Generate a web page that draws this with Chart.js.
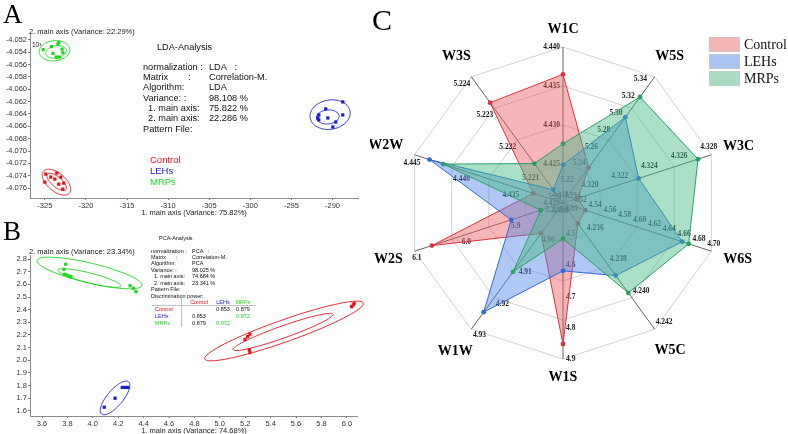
<!DOCTYPE html>
<html>
<head>
<meta charset="utf-8">
<script src="https://cdn.jsdelivr.net/npm/chart.js@4.4.1/dist/chart.umd.min.js"></script>
<style>
  html, body { margin: 0; padding: 0; background: #fff; }
  body { width: 788px; height: 434px; position: relative; overflow: hidden; }
  canvas { position: absolute; }
</style>
</head>
<body>
<canvas id="ldaChart" style="left:0;top:0;width:370px;height:222px" width="370" height="222"></canvas>
<canvas id="pcaChart" style="left:0;top:205px;width:370px;height:229px" width="370" height="229"></canvas>
<canvas id="radarChart" style="left:370px;top:0;width:418px;height:434px" width="418" height="434"></canvas>
<script>
const SANS = '"Liberation Sans", Arial, sans-serif';
const SERIF = '"Liberation Serif", "Times New Roman", serif';

const groupNames = ['Control', 'LEHs', 'MRPs'];
const groupColors = ['#e3141e', '#1c1cc8', '#22d422'];

// --- panel A: LDA scores ---
const ldaControl = [[-324.88, -4.07373], [-324.27, -4.07422], [-323.78, -4.07454], [-323.54, -4.07357], [-323.05, -4.07422],
  [-323.30, -4.07535], [-322.69, -4.07519], [-322.81, -4.07616], [-325.00, -4.07503]];
const ldaLEHs = [[-288.75, -4.06205], [-290.82, -4.06319], [-291.67, -4.06416], [-291.79, -4.06465], [-290.57, -4.06465],
  [-289.60, -4.06530], [-288.75, -4.06416], [-289.96, -4.06611], [-291.67, -4.06497]];
const ldaMRPs = [[-325.20, -4.05360], [-324.20, -4.05310], [-323.40, -4.05270], [-323.30, -4.05240], [-324.00, -4.05420],
  [-323.60, -4.05480], [-322.90, -4.05350], [-322.80, -4.05410], [-323.20, -4.05480]];
// ellipses: centre x, centre y, half-axis u (x,y), half-axis v (x,y), group
const ldaEllipses = [
  [-323.58, -4.07503, 1.58, -0.00177, -0.71, -0.00112, 0],
  [-323.55, -4.07500, 1.12, -0.00125, -0.39, -0.00062, 0],
  [-290.29, -4.06411, 2.43, 0.00049, 0.24, -0.00235, 1],
  [-290.57, -4.06449, 1.37, 0.00010, 0.00, 0.00114, 1],
  [-323.82, -4.05378, 1.86, 0.00024, 0.12, -0.00162, 2],
  [-323.63, -4.05395, 1.25, 0.00016, 0.06, 0.00100, 2]
];
const ldaXTicks = [-325, -320, -315, -310, -305, -300, -295, -290];
const ldaYTicks = [-4.052, -4.054, -4.056, -4.058, -4.060, -4.062, -4.064, -4.066, -4.068, -4.070, -4.072, -4.074, -4.076];
const ldaInfoLabels = ['normalization :', 'Matrix', 'Algorithm:', 'Variance: :', '  1. main axis:', '  2. main axis:', 'Pattern File:'];
const ldaInfoValues = ['LDA   :', 'Correlation-M.', 'LDA', '98.108 %', '75.822 %', '22.286 %', ''];

// --- panel B: PCA scores ---
const pcaControl = [[5.198, 2.166], [5.219, 2.187], [5.237, 2.206], [5.232, 2.082], [5.237, 2.061],
  [6.037, 2.424], [6.050, 2.437], [6.058, 2.450]];
const pcaLEHs = [[4.090, 1.630], [4.175, 1.701], [4.232, 1.786], [4.253, 1.786], [4.274, 1.786]];
const pcaMRPs = [[3.787, 2.758], [3.773, 2.719], [3.776, 2.679], [3.794, 2.674], [3.812, 2.666], [3.828, 2.660],
  [4.293, 2.589], [4.319, 2.569], [4.340, 2.542]];
const pcaEllipses = [
  [5.506, 2.2317, 0.624, 0.221, 0.029, -0.082, 0],
  [5.498, 2.2240, 0.394, 0.140, 0.0158, -0.0447, 0],
  [4.175, 1.703, 0.106, 0.127, 0.048, -0.040, 1],
  [3.974, 2.6895, 0.413, -0.0987, -0.018, -0.0766, 2],
  [3.974, 2.650, 0.248, -0.063, -0.0095, -0.0383, 2]
];
const pcaXTicks = [3.6, 3.8, 4.0, 4.2, 4.4, 4.6, 4.8, 5.0, 5.2, 5.4, 5.6, 5.8, 6.0];
const pcaYTicks = [2.8, 2.7, 2.6, 2.5, 2.4, 2.3, 2.2, 2.1, 2.0, 1.9, 1.8, 1.7, 1.6];
const pcaInfoLabels = ['normalization :', 'Matrix', 'Algorithm:', 'Variance: :', '  1. main axis:', '  2. main axis:', 'Pattern File:', 'Discrimination power:'];
const pcaInfoValues = ['PCA   :', 'Correlation-M.', 'PCA', '98.025 %', '74.684 %', '23.341 %', '', ''];
// discrimination power table, rows/cols = groups, '' on diagonal
const pcaPower = [['', '0.853', '0.879'], ['0.853', '', '0.972'], ['0.879', '0.972', '']];

// --- panel C: radar (every axis has its own range) ---
const radarAxes = ['W1C', 'W5S', 'W3C', 'W6S', 'W5C', 'W1S', 'W1W', 'W2S', 'W2W', 'W3S'];
const radarMin = [4.420, 5.20, 4.318, 4.50, 4.234, 4.4, 4.89, 5.8, 4.430, 5.220];
const radarMax = [4.440, 5.35, 4.328, 4.70, 4.242, 4.9, 4.93, 6.1, 4.445, 5.224];
const radarTicks = [
  ['4.420', '4.425', '4.430', '4.435', '4.440'],
  ['5.20', '5.22', '5.24', '5.26', '5.28', '5.30', '5.32', '5.34'],
  ['4.318', '4.320', '4.322', '4.324', '4.326', '4.328'],
  ['4.52', '4.54', '4.56', '4.58', '4.60', '4.62', '4.64', '4.66', '4.68', '4.70'],
  ['4.234', '4.236', '4.238', '4.240', '4.242'],
  ['4.5', '4.6', '4.7', '4.8', '4.9'],
  ['4.89', '4.90', '4.91', '4.92', '4.93'],
  ['5.8', '5.9', '6.0', '6.1'],
  ['4.430', '4.435', '4.440', '4.445'],
  ['5.220', '5.221', '5.222', '5.223', '5.224']
];
const radarControl = [4.4365, 5.242, 4.3190, 4.530, 4.2353, 4.852, 4.8996, 6.065, 4.4330, 5.22318];
const radarLEHs = [4.4249, 5.302, 4.3231, 4.6606, 4.2386, 4.6175, 4.9246, 5.9047, 4.4435, 5.22042];
const radarMRPs = [4.4276, 5.326, 4.3271, 4.6694, 4.2397, 4.5145, 4.9118, 5.845, 4.4421, 5.22125];

const radarLine = ['#d8343c', '#2f6ad8', '#2e9e66'];
const radarFill = ['rgba(236, 90, 95, 0.45)', 'rgba(80, 135, 230, 0.45)', 'rgba(70, 185, 130, 0.45)'];
const radarSwatch = ['#f5b5b5', '#abc5f0', '#aadcc4'];

function toPoints(arr) {
  return arr.map(p => ({ x: p[0], y: p[1] }));
}

const ellipsePlugin = {
  id: 'ellipses',
  afterDatasetsDraw(chart, args, opts) {
    const ctx = chart.ctx, xs = chart.scales.x, ys = chart.scales.y;
    ctx.save();
    ctx.lineWidth = 0.9;
    opts.list.forEach(e => {
      ctx.strokeStyle = groupColors[e[6]];
      ctx.beginPath();
      for (let k = 0; k <= 90; k++) {
        const a = k / 90 * Math.PI * 2;
        const px = xs.getPixelForValue(e[0] + Math.cos(a) * e[2] + Math.sin(a) * e[4]);
        const py = ys.getPixelForValue(e[1] + Math.cos(a) * e[3] + Math.sin(a) * e[5]);
        if (k === 0) ctx.moveTo(px, py); else ctx.lineTo(px, py);
      }
      ctx.stroke();
    });
    ctx.restore();
  }
};

function axisOpts(min, max, ticks, fmt, size, isX) {
  return {
    type: 'linear',
    min: min,
    max: max,
    afterBuildTicks: s => { s.ticks = ticks.map(v => ({ value: v })); },
    afterFit: s => { if (isX) s.height = size; else s.width = size; },
    grid: { drawOnChartArea: false, drawTicks: true, tickLength: 2, color: '#777' },
    border: { display: true, color: '#8a8a8a', width: 1 },
    ticks: {
      font: { family: SANS, size: 7.5 },
      color: '#333',
      padding: 1,
      maxRotation: 0,
      minRotation: 0,
      autoSkip: false,
      callback: v => fmt(v)
    }
  };
}

function scatterDatasets(groups) {
  return groups.map((g, i) => ({
    label: groupNames[i],
    data: toPoints(g),
    pointStyle: 'rect',
    pointRadius: 2.3,
    backgroundColor: groupColors[i],
    borderWidth: 0
  }));
}

const ldaText = {
  id: 'ldaText',
  afterDraw(chart) {
    const ctx = chart.ctx;
    ctx.save();
    ctx.fillStyle = '#000';
    ctx.textBaseline = 'alphabetic';
    ctx.font = `27px ${SERIF}`;
    ctx.fillText('A', 3, 23);
    ctx.textBaseline = 'middle';
    ctx.fillStyle = '#222';
    ctx.font = `7.5px ${SANS}`;
    ctx.fillText('2. main axis (Variance: 22.29%)', 29, 32);
    ctx.textAlign = 'center';
    ctx.fillText('1. main axis (Variance: 75.82%)', 194, 213);
    ctx.textAlign = 'left';
    ctx.font = `6.5px ${SANS}`;
    ctx.fillText('10\u00b3', 32, 45);
    ctx.fillStyle = '#111';
    ctx.font = `9.2px ${SANS}`;
    ctx.fillText('LDA-Analysis', 157, 47);
    ldaInfoLabels.forEach((lab, i) => {
      const y = 67.3 + i * 10.3;
      ctx.fillText(lab, 143, y);
      if (i === 1) ctx.fillText(':', 188, y);
      ctx.fillText(ldaInfoValues[i], 209, y);
    });
    ctx.font = `9.5px ${SANS}`;
    groupNames.forEach((g, i) => {
      ctx.fillStyle = groupColors[i];
      ctx.fillText(g, 150, 160 + i * 11);
    });
    ctx.restore();
  }
};

const pcaText = {
  id: 'pcaText',
  afterDraw(chart) {
    const ctx = chart.ctx;
    const oy = -205;
    ctx.save();
    ctx.fillStyle = '#000';
    ctx.textBaseline = 'alphabetic';
    ctx.font = `27px ${SERIF}`;
    ctx.fillText('B', 3, 240 + oy);
    ctx.textBaseline = 'middle';
    ctx.fillStyle = '#222';
    ctx.font = `7.5px ${SANS}`;
    ctx.fillText('2. main axis (Variance: 23.34%)', 29, 251.5 + oy);
    ctx.textAlign = 'center';
    ctx.fillText('1. main axis (Variance: 74.68%)', 194, 431 + oy);
    ctx.textAlign = 'left';
    ctx.fillStyle = '#111';
    ctx.font = `5.5px ${SANS}`;
    ctx.fillText('PCA-Analysis', 159, 238 + oy);
    pcaInfoLabels.forEach((lab, i) => {
      const y = 251 + i * 6.45 + oy;
      ctx.fillText(lab, 151, y);
      if (i === 1) ctx.fillText(':', 176, y);
      ctx.fillText(pcaInfoValues[i], 192, y);
    });
    const colX = [199, 223, 243];
    const headY = 302 + oy;
    ctx.textAlign = 'center';
    groupNames.forEach((g, i) => {
      ctx.fillStyle = groupColors[i];
      ctx.fillText(g, colX[i], headY);
    });
    groupNames.forEach((g, r) => {
      const y = 309 + r * 7 + oy;
      ctx.textAlign = 'left';
      ctx.fillStyle = groupColors[r];
      ctx.fillText(g, 155, y);
      ctx.textAlign = 'center';
      pcaPower[r].forEach((v, c) => {
        if (!v) return;
        ctx.fillStyle = (r === 2 && c === 1) || (r === 1 && c === 2) ? groupColors[2] : '#111';
        ctx.fillText(v, colX[c], y);
      });
    });
    ctx.strokeStyle = '#b0b0b0';
    ctx.lineWidth = 0.8;
    ctx.beginPath();
    ctx.moveTo(152, 305.5 + oy); ctx.lineTo(256, 305.5 + oy);
    ctx.moveTo(181.5, 297 + oy); ctx.lineTo(181.5, 327 + oy);
    ctx.stroke();
    ctx.restore();
  }
};

new Chart(document.getElementById('ldaChart'), {
  type: 'scatter',
  data: { datasets: scatterDatasets([ldaControl, ldaLEHs, ldaMRPs]) },
  options: {
    responsive: false,
    animation: false,
    layout: { padding: { left: 0, top: 33, right: 12, bottom: 0 } },
    scales: {
      x: axisOpts(-326.8, -286.9, ldaXTicks, v => String(v), 24, true),
      y: axisOpts(-4.0776, -4.0509, ldaYTicks, v => v.toFixed(3), 30, false)
    },
    plugins: {
      legend: { display: false },
      tooltip: { enabled: false },
      ellipses: { list: ldaEllipses }
    }
  },
  plugins: [ellipsePlugin, ldaText]
});

new Chart(document.getElementById('pcaChart'), {
  type: 'scatter',
  data: { datasets: scatterDatasets([pcaControl, pcaLEHs, pcaMRPs]) },
  options: {
    responsive: false,
    animation: false,
    layout: { padding: { left: 0, top: 50, right: 13, bottom: 0 } },
    scales: {
      x: axisOpts(3.5055, 6.08, pcaXTicks, v => v.toFixed(1), 18, true),
      y: axisOpts(1.5605, 2.8316, pcaYTicks, v => v.toFixed(1), 30, false)
    },
    plugins: {
      legend: { display: false },
      tooltip: { enabled: false },
      ellipses: { list: pcaEllipses }
    }
  },
  plugins: [ellipsePlugin, pcaText]
});

// radar values are placed on each axis' own range
function normalise(vals) {
  return vals.map((v, i) => (v - radarMin[i]) / (radarMax[i] - radarMin[i]));
}

const radarText = {
  id: 'radarText',
  beforeDatasetsDraw(chart) {
    const ctx = chart.ctx, s = chart.scales.r;
    ctx.save();
    ctx.font = `bold 7.5px ${SERIF}`;
    ctx.fillStyle = '#1a1a1a';
    ctx.textAlign = 'center';
    ctx.textBaseline = 'middle';
    radarAxes.forEach((name, i) => {
      const end = s.getPointPositionForValue(i, 1);
      const dx = (end.x - s.xCenter) / s.drawingArea, dy = (end.y - s.yCenter) / s.drawingArea;
      const lx = dy, ly = -dx;
      radarTicks[i].forEach(lab => {
        const t = (parseFloat(lab) - radarMin[i]) / (radarMax[i] - radarMin[i]);
        const p = s.getPointPositionForValue(i, t);
        const w = ctx.measureText(lab).width;
        const off = 3 + Math.abs(lx) * w / 2 + Math.abs(ly) * 3;
        ctx.fillText(lab, p.x + lx * off, p.y + ly * off);
      });
    });
    ctx.restore();
  },
  afterDraw(chart) {
    const ctx = chart.ctx, s = chart.scales.r;
    ctx.save();
    ctx.fillStyle = '#000';
    ctx.textAlign = 'center';
    ctx.textBaseline = 'middle';
    ctx.font = `bold 14px ${SERIF}`;
    radarAxes.forEach((name, i) => {
      const end = s.getPointPositionForValue(i, 1);
      const dx = (end.x - s.xCenter) / s.drawingArea, dy = (end.y - s.yCenter) / s.drawingArea;
      const w = ctx.measureText(name).width;
      const off = 12 + Math.abs(dx) * w / 2 + Math.abs(dy) * 6;
      ctx.fillText(name, end.x + dx * off, end.y + dy * off);
    });
    ctx.textAlign = 'left';
    ctx.textBaseline = 'alphabetic';
    ctx.font = `30px ${SERIF}`;
    ctx.fillText('C', 2, 30);
    ctx.textBaseline = 'middle';
    ctx.font = `14px ${SERIF}`;
    groupNames.forEach((g, i) => {
      const y = 37 + i * 17;
      ctx.fillStyle = radarSwatch[i];
      ctx.fillRect(339, y, 31, 15);
      ctx.strokeStyle = '#c8c8c8';
      ctx.lineWidth = 0.6;
      ctx.strokeRect(339.5, y + 0.5, 30, 14);
      ctx.fillStyle = '#111';
      ctx.fillText(g, 374, y + 8);
    });
    ctx.restore();
  }
};

new Chart(document.getElementById('radarChart'), {
  type: 'radar',
  data: {
    labels: radarAxes,
    datasets: [radarControl, radarLEHs, radarMRPs].map((vals, i) => ({
      label: groupNames[i],
      data: normalise(vals),
      order: 3 - i,
      borderColor: radarLine[i],
      backgroundColor: radarFill[i],
      borderWidth: 1,
      fill: true,
      pointRadius: 2.4,
      pointBackgroundColor: radarLine[i],
      pointBorderWidth: 0
    }))
  },
  options: {
    responsive: false,
    animation: false,
    layout: { padding: { left: 37, top: 47, right: 69, bottom: 75 } },
    scales: {
      r: {
        min: 0,
        max: 1,
        startAngle: 0,
        ticks: { display: false, stepSize: 0.25 },
        grid: { circular: false, color: '#d2d2d2', lineWidth: 1 },
        angleLines: { color: '#3a3a3a', lineWidth: 0.8 },
        pointLabels: { display: false }
      }
    },
    plugins: {
      legend: { display: false },
      tooltip: { enabled: false }
    }
  },
  plugins: [radarText]
});
</script>
</body>
</html>
